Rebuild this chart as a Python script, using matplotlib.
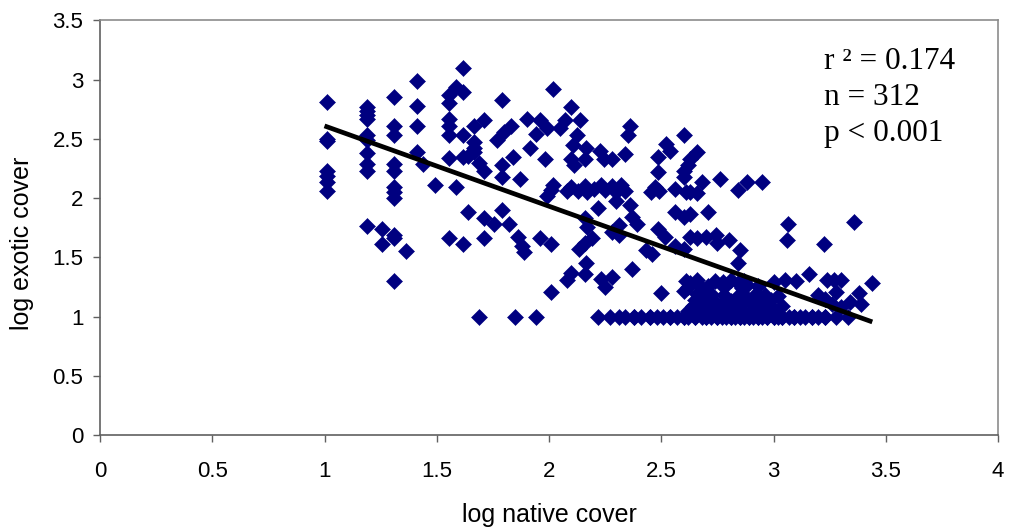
import matplotlib
matplotlib.use("Agg")
import matplotlib.pyplot as plt
import numpy as np

# ---- data ----
native_upper = [
    1.01, 1.01, 1.01, 1.01, 1.01, 1.01, 1.01,
    1.19, 1.19, 1.19, 1.19, 1.19, 1.19, 1.19, 1.19, 1.19, 1.19,
    1.255, 1.255,
    1.31, 1.31, 1.31, 1.31, 1.31, 1.31, 1.31, 1.31, 1.31, 1.31, 1.31,
    1.365,
    1.41, 1.41, 1.41, 1.41,
    1.44, 1.49,
    1.555, 1.555, 1.555, 1.555, 1.555, 1.555, 1.555,
    1.585, 1.585,
    1.615, 1.615, 1.615, 1.615, 1.615,
    1.64, 1.64,
    1.665, 1.665, 1.665, 1.665,
    1.69, 1.69,
    1.71, 1.71, 1.71, 1.71,
]
exotic_upper = [
    2.81, 2.50, 2.48, 2.23, 2.19, 2.14, 2.06,
    2.77, 2.74, 2.70, 2.67, 2.53, 2.49, 2.38, 2.29, 2.23, 1.765,
    1.74, 1.61,
    2.85, 2.61, 2.53, 2.29, 2.23, 2.09, 2.05, 2.00, 1.69, 1.66, 1.30,
    1.55,
    2.985, 2.78, 2.61, 2.39,
    2.29, 2.11,
    2.87, 2.80, 2.67, 2.61, 2.53, 2.34, 1.66,
    2.94, 2.09,
    3.10, 2.90, 2.53, 2.35, 1.61,
    2.36, 1.88,
    2.61, 2.47, 2.42, 2.39,
    2.30, 1.00,
    2.66, 2.23, 1.83, 1.66,
]

native_mid = [
    1.79, 1.83, 1.80, 1.77, 1.84, 1.79, 1.79, 1.87, 1.90, 1.96, 1.99, 1.94,
    1.915, 1.98, 2.02, 2.07, 2.05, 2.10, 2.14, 2.125, 2.105, 2.10, 2.11,
    2.165, 2.16, 2.225, 2.245, 2.28, 2.34, 2.36, 2.35, 2.02,
    2.10, 2.13, 2.16, 2.17, 2.20, 2.23, 2.25, 2.28, 2.30, 2.32, 2.34, 2.08,
    2.22, 2.30, 2.36, 2.37, 1.79, 1.755, 1.82, 2.16, 2.17, 2.28, 2.31, 2.31,
    2.39, 1.86, 1.88, 1.89, 1.96, 2.01, 2.19, 2.16, 2.135, 2.165, 2.16,
    2.10, 2.08, 2.23, 2.28, 2.25, 2.37, 2.01,
    2.01, 1.99,
    1.85, 1.94,
]
exotic_mid = [
    2.83, 2.61, 2.56, 2.49, 2.35, 2.28, 2.18, 2.16, 2.67, 2.66, 2.59, 2.54,
    2.42, 2.33, 2.92, 2.66, 2.59, 2.77, 2.66, 2.53, 2.45, 2.33, 2.28,
    2.42, 2.33, 2.40, 2.33, 2.33, 2.375, 2.61, 2.53, 2.11,
    2.09, 2.06, 2.10, 2.05, 2.08, 2.11, 2.07, 2.10, 2.05, 2.11, 2.06, 2.06,
    1.92, 1.98, 1.94, 1.84, 1.90, 1.78, 1.78, 1.83, 1.76, 1.71, 1.77, 1.69,
    1.78, 1.67, 1.60, 1.545, 1.66, 1.61, 1.66, 1.62, 1.57, 1.45, 1.36,
    1.37, 1.31, 1.32, 1.33, 1.25, 1.405, 1.21,
    2.07, 2.02,
    1.00, 1.00,
]

native_right = [
    2.60, 2.52, 2.54, 2.485, 2.66, 2.63, 2.62, 2.60, 2.485, 2.60, 2.68, 2.76,
    2.88, 2.95, 2.84, 2.47, 2.455, 2.56, 2.61, 2.63, 2.49, 2.66,
    2.56, 2.60, 2.63, 2.71, 3.065, 3.06, 2.485, 2.515, 2.63, 2.66, 2.70,
    2.745, 2.75, 2.80, 2.43, 2.46, 2.56, 2.60, 2.85, 2.84,
    2.61, 2.66, 2.63, 2.74, 2.775, 2.81, 2.84, 2.87, 2.88, 3.00, 3.05,
    2.50, 2.60, 2.66, 2.72, 2.78, 2.84, 2.88, 2.92, 2.96, 3.02,
    2.65, 2.69, 2.74, 2.81, 2.89, 2.95, 2.99,
    3.36, 3.225, 3.16, 3.10, 3.24, 3.27, 3.30, 3.44, 3.28, 3.20, 3.23,
    3.38, 3.39, 3.34, 3.30, 3.26,
]
exotic_right = [
    2.535, 2.46, 2.40, 2.35, 2.39, 2.33, 2.28, 2.23, 2.22, 2.18, 2.14, 2.16,
    2.14, 2.14, 2.07, 2.09, 2.05, 2.08, 2.05, 2.05, 2.06, 2.04,
    1.88, 1.84, 1.87, 1.88, 1.78, 1.645, 1.74, 1.67, 1.67, 1.66, 1.67,
    1.69, 1.62, 1.645, 1.56, 1.53, 1.60, 1.57, 1.56, 1.45,
    1.30, 1.31, 1.28, 1.30, 1.29, 1.31, 1.28, 1.30, 1.27, 1.29, 1.31,
    1.195, 1.22, 1.19, 1.19, 1.18, 1.17, 1.16, 1.19, 1.18, 1.17,
    1.14, 1.13, 1.12, 1.13, 1.13, 1.13, 1.14,
    1.80, 1.61, 1.36, 1.30, 1.31, 1.31, 1.31, 1.28, 1.21, 1.18, 1.15,
    1.195, 1.11, 1.12, 1.08, 1.11,
]

# dense band near the detection floor (log exotic cover = 1)
native_band = [
    2.22, 2.27, 2.31, 2.34, 2.38, 2.41, 2.45, 2.48, 2.51, 2.54, 2.57, 2.60,
    2.62, 2.65, 2.68, 2.70, 2.72, 2.75, 2.77, 2.79, 2.81, 2.83, 2.85, 2.87,
    2.89, 2.91, 2.93, 2.95, 2.97, 3.00, 3.02, 3.04, 3.07, 3.09, 3.12, 3.14,
    3.17, 3.20, 3.23, 3.28, 3.33,
    2.62, 2.66, 2.70, 2.73, 2.77, 2.80, 2.83, 2.86, 2.90, 2.93, 2.97, 3.01,
    2.64, 2.68, 2.72, 2.76, 2.79, 2.85, 2.92, 2.98, 3.04,
    2.62, 2.68, 2.71, 2.78, 2.86, 2.93,
    2.70, 2.75, 2.81, 2.85, 2.89, 2.93, 2.97, 3.00, 2.65, 2.60, 3.04, 3.09,
    2.54, 2.45, 2.38, 3.17, 3.23,
]
exotic_band = [
    1.00, 1.00, 1.00, 1.00, 1.00, 1.00, 1.00, 1.00, 1.00, 1.00, 1.00, 1.00,
    1.00, 1.00, 1.00, 1.00, 1.00, 1.00, 1.00, 1.00, 1.00, 1.00, 1.00, 1.00,
    1.00, 1.00, 1.00, 1.00, 1.00, 1.00, 1.00, 1.00, 1.00, 1.00, 1.00, 1.00,
    1.00, 1.00, 1.00, 1.00, 1.00,
    1.05, 1.05, 1.05, 1.05, 1.05, 1.05, 1.05, 1.05, 1.05, 1.05, 1.05, 1.05,
    1.09, 1.09, 1.09, 1.09, 1.09, 1.09, 1.09, 1.09, 1.09,
    1.25, 1.24, 1.26, 1.25, 1.24, 1.26,
    1.00, 1.00, 1.00, 1.00, 1.00, 1.00, 1.00, 1.00, 1.00, 1.00, 1.00, 1.00,
    1.00, 1.00, 1.00, 1.00, 1.00,
]

# fitted regression line (end points)
trend_x = [1.0, 3.44]
trend_y = [2.61, 0.955]

stats_lines = ["r \u00b2 = 0.174", "n = 312", "p < 0.001"]

x_ticks = [0, 0.5, 1, 1.5, 2, 2.5, 3, 3.5, 4]
y_ticks = [0, 0.5, 1, 1.5, 2, 2.5, 3, 3.5]
x_ticklabels = ["0", "0.5", "1", "1.5", "2", "2.5", "3", "3.5", "4"]
y_ticklabels = ["0", "0.5", "1", "1.5", "2", "2.5", "3", "3.5"]

native = native_upper + native_mid + native_right + native_band
exotic = exotic_upper + exotic_mid + exotic_right + exotic_band

# ---- figure ----
W, H = 1009, 529
fig = plt.figure(figsize=(W / 100, H / 100), dpi=100)
ax = fig.add_axes([100 / W, (H - 435) / H, 898 / W, 414.5 / H])

navy = "#000080"
ax.plot(native, exotic, linestyle="none", marker="D", markersize=7.9,
        markerfacecolor=navy, markeredgecolor=navy, markeredgewidth=0.4,
        zorder=2)
ax.plot(trend_x, trend_y, color="black", linewidth=3.4, solid_capstyle="butt",
        zorder=3)

ax.set_xlim(0, 4)
ax.set_ylim(0, 3.5)
ax.set_xticks(x_ticks)
ax.set_xticklabels(x_ticklabels)
ax.set_yticks(y_ticks)
ax.set_yticklabels(y_ticklabels)

for lab in ax.get_xticklabels() + ax.get_yticklabels():
    lab.set_fontfamily("Liberation Sans")
    lab.set_fontsize(16)
ax.tick_params(axis="x", direction="out", length=5, width=1.0,
               color="#606060", pad=14)
ax.tick_params(axis="y", direction="out", length=5, width=1.0,
               color="#606060", pad=7)

for side in ["left", "bottom"]:
    ax.spines[side].set_color("#606060")
    ax.spines[side].set_linewidth(1.2)
for side in ["top", "right"]:
    ax.spines[side].set_color("#8c8c8c")
    ax.spines[side].set_linewidth(1.2)

ax.set_xlabel("log native cover", fontfamily="Liberation Sans", fontsize=18,
              va="center")
ax.xaxis.set_label_coords(0.5, (435 - 515) / 414.5)
ax.set_ylabel("log exotic cover", fontfamily="Liberation Sans", fontsize=18,
              va="center", ha="center")
ax.yaxis.set_label_coords((22 - 100) / 898, (435 - 243) / 414.5)

baselines = [69.5, 105.5, 141.5]
for txt, by in zip(stats_lines, baselines):
    ax.text((824 - 100) / 898, (435 - by) / 414.5, txt, transform=ax.transAxes,
            fontfamily="Liberation Serif", fontsize=22.5, ha="left",
            va="baseline", color="black")

fig.savefig("out.png", dpi=100, facecolor="white")
